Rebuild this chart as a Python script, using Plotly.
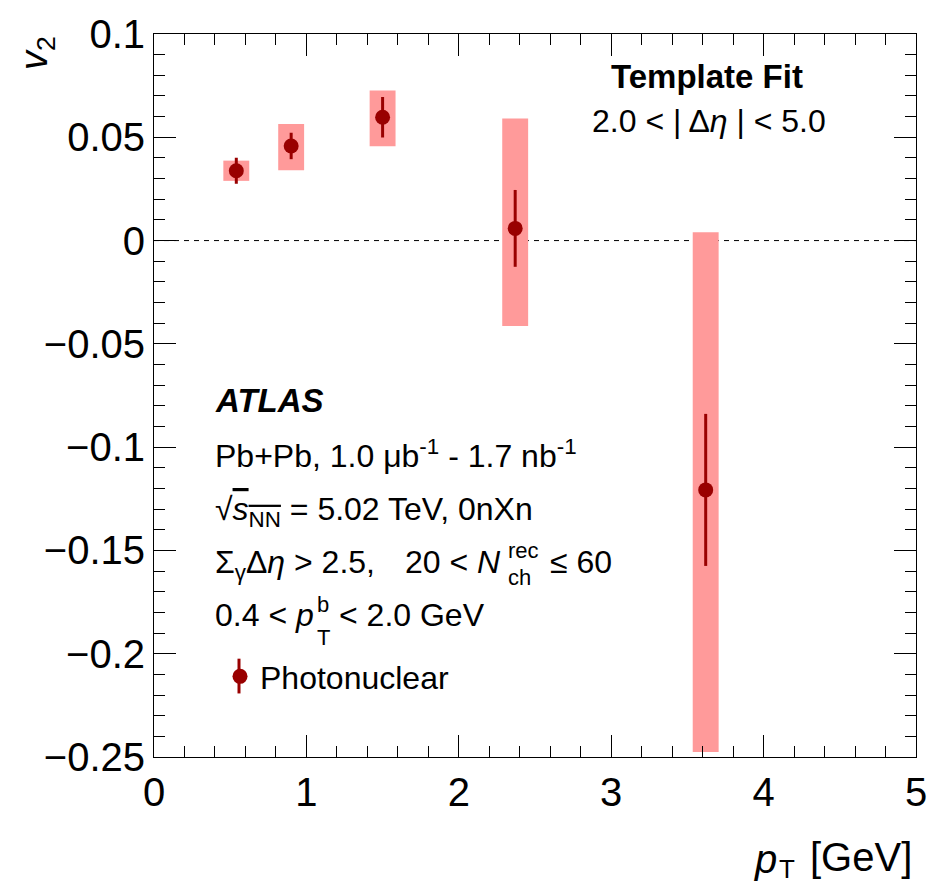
import numpy as np
import plotly.graph_objects as go

# Photonuclear v2 vs pT, template fit, 2.0 < |Δη| < 5.0
pt = [0.54, 0.90, 1.50, 2.37, 3.62]
v2 = [0.0338, 0.0458, 0.0597, 0.0059, -0.1207]
stat_err = [0.0063, 0.0064, 0.0098, 0.0186, 0.0368]
syst_up = [0.0049, 0.0106, 0.0130, 0.0532, 0.1247]
syst_dn = [0.0049, 0.0118, 0.0140, 0.0472, 0.1269]
box_width = [0.17, 0.17, 0.17, 0.17, 0.17]

x_ticks = [0, 1, 2, 3, 4, 5]
x_tick_text = ["0", "1", "2", "3", "4", "5"]
y_ticks = [0.1, 0.05, 0, -0.05, -0.1, -0.15, -0.2, -0.25]
y_tick_text = ["0.1", "0.05", "0", "\u22120.05", "\u22120.1", "\u22120.15", "\u22120.2", "\u22120.25"]

FONT = "Liberation Sans, Arial, Helvetica, sans-serif"
DARK_RED = "#990000"
PINK = "#ff9a9a"

v2_a = np.array(v2)
fig = go.Figure()

# systematic uncertainty boxes
fig.add_trace(go.Bar(
    x=pt, base=v2_a - np.array(syst_dn), y=np.array(syst_up) + np.array(syst_dn),
    width=box_width, marker=dict(color=PINK, line=dict(width=0)),
    showlegend=False, hoverinfo="skip",
))

# points with statistical error bars
fig.add_trace(go.Scatter(
    x=pt, y=v2, mode="markers", name="Photonuclear",
    marker=dict(size=15, color=DARK_RED),
    error_y=dict(type="data", array=stat_err, thickness=3, width=0, color=DARK_RED),
))

axis_common = dict(
    showgrid=False, zeroline=False, showline=True, linecolor="black", linewidth=1,
    mirror="ticks", ticks="inside", ticklen=22, tickwidth=1, tickcolor="black",
    tickfont=dict(family=FONT, size=40, color="black"),
)
fig.update_xaxes(range=[0, 5], tickvals=x_ticks, ticktext=x_tick_text,
                 minor=dict(dtick=0.2, ticks="inside", ticklen=11, tickwidth=1, tickcolor="black"),
                 **axis_common)
fig.update_yaxes(range=[-0.25, 0.1], tickvals=y_ticks, ticktext=y_tick_text,
                 minor=dict(dtick=0.01, ticks="inside", ticklen=11, tickwidth=1, tickcolor="black"),
                 **axis_common)

# dashed reference line at v2 = 0
fig.add_shape(type="line", xref="x", yref="y", x0=0, x1=5, y0=0, y1=0,
              line=dict(color="black", width=1, dash="5px,5px"), layer="below")

L, R, T, B = 154, 34, 29, 132
W, H = 950, 889
PW, PH = W - L - R, H - T - B


def px(xp):
    return (xp - L) / PW


def py(yp):
    return (H - B - yp) / PH


def label(text, x, y, size=32, xanchor="left", yanchor="middle", **kw):
    fig.add_annotation(text=text, xref="paper", yref="paper", x=px(x), y=py(y),
                       xanchor=xanchor, yanchor=yanchor, showarrow=False,
                       font=dict(family=FONT, size=size, color="black"), **kw)


label("<b>Template Fit</b>", 707, 72, size=33, xanchor="center")
label("2.0 &lt; | Δ<i>η</i> | &lt; 5.0", 709, 117, xanchor="center")

label("<b><i>ATLAS</i></b>", 213, 398, size=33)
label("Pb+Pb, 1.0 μb<sup>-1</sup> - 1.7 nb<sup>-1</sup>", 213, 452)
label("√<span style='text-decoration:overline'><i>s</i><sub>NN</sub></span> = 5.02 TeV, 0nXn", 213, 510)

# Σγ line with stacked N_ch^rec
label("Σ<sub>γ</sub>Δ<i>η</i> &gt; 2.5,", 213, 563)
label("20 &lt; <i>N</i>", 503, 561, xanchor="right")
label("rec", 506, 549, size=22)
label("ch", 506, 576, size=22)
label("≤ 60", 548, 561)

# pT^b line with stacked sub/superscript
label("0.4 &lt; <i>p</i>", 213, 614, xanchor="left")
label("b", 315, 603, size=22)
label("T", 315, 637, size=22)
label("&lt; 2.0 GeV", 337, 614)

# legend glyph: vertical stat-error line through the marker
fig.add_shape(type="line", xref="paper", yref="paper", x0=px(239), x1=px(239),
              y0=py(658), y1=py(693), line=dict(color=DARK_RED, width=3))

# axis titles
label("<i>p</i>", 752, 860, size=40, xanchor="left")
label("T", 777, 870, size=26, xanchor="left")
label("[GeV]", 914, 858, size=40, xanchor="right")
fig.add_annotation(text="<i>v</i><sub>2</sub>", xref="paper", yref="paper",
                   x=px(37), y=1.0, xanchor="center", yanchor="top", textangle=-90,
                   showarrow=False, font=dict(family=FONT, size=38, color="black"))

fig.update_layout(
    width=W, height=H, margin=dict(l=L, r=R, t=T, b=B),
    plot_bgcolor="white", paper_bgcolor="white", barmode="overlay",
    showlegend=True,
    legend=dict(x=px(220), y=py(676), xanchor="left", yanchor="middle",
                bgcolor="rgba(0,0,0,0)", font=dict(family=FONT, size=32, color="black"),
                itemwidth=30),
)

fig.write_html("out.html")
